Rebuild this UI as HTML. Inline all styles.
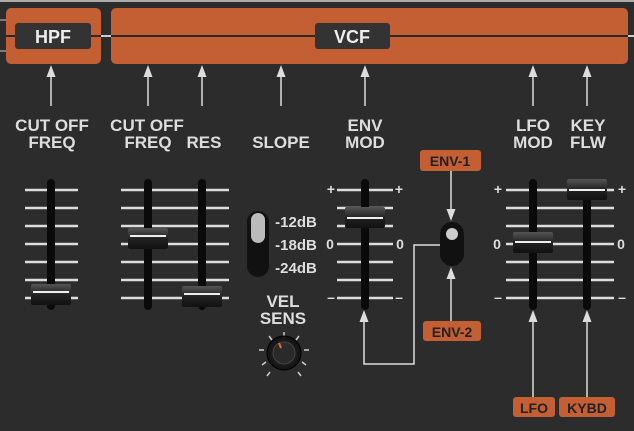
<!DOCTYPE html>
<html><head><style>
body{margin:0;width:634px;height:426px;overflow:hidden;background:#2c2c2c}
svg text{font-family:"Liberation Sans",sans-serif;font-weight:bold}
</style></head><body>
<svg width="634" height="426" viewBox="0 0 634 426" xmlns="http://www.w3.org/2000/svg">
<defs>
<marker id="a" markerWidth="8" markerHeight="8" refX="4" refY="4" orient="auto"><path d="M0,1 L8,4 L0,7Z" fill="#ddd"/></marker>
<linearGradient id="h" x1="0" y1="0" x2="0" y2="1"><stop offset="0" stop-color="#555"/><stop offset="0.5" stop-color="#222"/><stop offset="1" stop-color="#111"/></linearGradient>
<radialGradient id="k"><stop offset="0" stop-color="#333"/><stop offset="1" stop-color="#111"/></radialGradient>
</defs>
<rect width="634" height="426" fill="#2c2c2c"/>
<line x1="0" y1="1" x2="634" y2="1" stroke="#aaa" stroke-width="2"/>
<rect x="6" y="8" width="95" height="56" rx="5" fill="#c35f32"/>
<rect x="111" y="8" width="517" height="56" rx="5" fill="#c35f32"/>
<line x1="0" y1="36" x2="634" y2="36" stroke="#2a2a2a" stroke-width="2"/>
<line x1="0" y1="20" x2="6" y2="20" stroke="#ccc"/><line x1="0" y1="51" x2="6" y2="51" stroke="#ccc"/>
<line x1="101" y1="36" x2="111" y2="36" stroke="#ccc" stroke-width="2"/>
<line x1="628" y1="36" x2="634" y2="36" stroke="#ccc" stroke-width="2"/>
<rect x="15" y="23" width="76" height="26" rx="3" fill="#333"/>
<text x="53" y="43" fill="#eee" font-size="18" text-anchor="middle">HPF</text>
<rect x="315" y="23" width="75" height="26" rx="3" fill="#333"/>
<text x="352" y="43" fill="#eee" font-size="18" text-anchor="middle">VCF</text>
<g stroke="#ddd" stroke-width="1.5" marker-end="url(#a)">
<line x1="51" y1="106" x2="51" y2="71"/><line x1="148" y1="106" x2="148" y2="71"/>
<line x1="202" y1="106" x2="202" y2="71"/><line x1="281" y1="106" x2="281" y2="71"/>
<line x1="365" y1="106" x2="365" y2="71"/><line x1="533" y1="106" x2="533" y2="71"/>
<line x1="587" y1="106" x2="587" y2="71"/>
<line x1="451" y1="171" x2="451" y2="215"/><line x1="451" y1="322" x2="451" y2="273"/>
<line x1="533" y1="397" x2="533" y2="316"/><line x1="587" y1="397" x2="587" y2="316"/>
</g>
<path d="M440,245 H414 V364 H364 V316" stroke="#ddd" stroke-width="1.5" fill="none" marker-end="url(#a)"/>
<g fill="#ddd" font-size="17" text-anchor="middle">
<text x="52" y="131">CUT OFF</text><text x="52" y="148">FREQ</text>
<text x="147" y="131">CUT OFF</text><text x="148" y="148">FREQ</text>
<text x="204" y="148">RES</text><text x="281" y="148">SLOPE</text>
<text x="365" y="131">ENV</text><text x="365" y="148">MOD</text>
<text x="533" y="131">LFO</text><text x="533" y="148">MOD</text>
<text x="588" y="131">KEY</text><text x="588" y="148">FLW</text>
<text x="283" y="307">VEL</text><text x="283" y="324">SENS</text>
</g>
<g stroke="#ddd" stroke-width="2.5">
<path d="M25 190H78M25 208H78M25 226H78M25 244H78M25 262H78M25 280H78M25 298H78"/>
<path d="M121 190H229M121 208H229M121 226H229M121 244H229M121 262H229M121 280H229M121 298H229"/>
<path d="M337 190H393M337 208H393M337 226H393M337 244H393M337 262H393M337 280H393M337 298H393"/>
<path d="M506 190H614M506 208H614M506 226H614M506 244H614M506 262H614M506 280H614M506 298H614"/>
</g>
<g fill="#ddd" font-size="14" text-anchor="middle">
<text x="331" y="194">+</text><text x="399" y="194">+</text>
<text x="330" y="249">0</text><text x="400" y="249">0</text>
<text x="331" y="302">–</text><text x="399" y="302">–</text>
<text x="498" y="194">+</text><text x="622" y="194">+</text>
<text x="497" y="249">0</text><text x="621" y="249">0</text>
<text x="498" y="302">–</text><text x="622" y="302">–</text>
<text x="296" y="227" font-size="15">-12dB</text><text x="296" y="250" font-size="15">-18dB</text><text x="296" y="273" font-size="15">-24dB</text>
</g>
<g fill="#0a0a0a">
<rect x="47" y="179" width="8" height="131" rx="4"/><rect x="144" y="179" width="8" height="131" rx="4"/>
<rect x="198" y="179" width="8" height="131" rx="4"/><rect x="361" y="179" width="8" height="131" rx="4"/>
<rect x="529" y="179" width="8" height="131" rx="4"/><rect x="583" y="179" width="8" height="131" rx="4"/>
</g>
<g>
<rect x="31" y="284" width="40" height="21" rx="2" fill="url(#h)"/><line x1="33" y1="292" x2="69" y2="292" stroke="#eee" stroke-width="2"/>
<rect x="128" y="228" width="40" height="21" rx="2" fill="url(#h)"/><line x1="130" y1="236" x2="166" y2="236" stroke="#eee" stroke-width="2"/>
<rect x="182" y="286" width="40" height="21" rx="2" fill="url(#h)"/><line x1="184" y1="294" x2="220" y2="294" stroke="#eee" stroke-width="2"/>
<rect x="345" y="207" width="40" height="21" rx="2" fill="url(#h)"/><line x1="347" y1="218" x2="383" y2="218" stroke="#eee" stroke-width="2"/>
<rect x="513" y="232" width="40" height="21" rx="2" fill="url(#h)"/><line x1="515" y1="242" x2="551" y2="242" stroke="#eee" stroke-width="2"/>
<rect x="567" y="179" width="40" height="21" rx="2" fill="url(#h)"/><line x1="569" y1="190" x2="605" y2="190" stroke="#eee" stroke-width="2"/>
</g>
<rect x="247" y="211" width="22" height="66" rx="11" fill="#111"/>
<rect x="251" y="213" width="14" height="30" rx="7" fill="#bbb"/>
<rect x="440" y="222" width="24" height="44" rx="12" fill="#111"/>
<circle cx="452" cy="234" r="6" fill="#ccc"/>
<rect x="420" y="150" width="61" height="21" rx="3" fill="#c35f32"/>
<text x="450" y="166" fill="#222" font-size="14" text-anchor="middle">ENV-1</text>
<rect x="423" y="321" width="58" height="20" rx="3" fill="#c35f32"/>
<text x="452" y="337" fill="#222" font-size="14" text-anchor="middle">ENV-2</text>
<rect x="513" y="397" width="42" height="20" rx="3" fill="#c35f32"/>
<text x="534" y="413" fill="#222" font-size="14" text-anchor="middle">LFO</text>
<rect x="559" y="397" width="56" height="20" rx="3" fill="#c35f32"/>
<text x="587" y="413" fill="#222" font-size="14" text-anchor="middle">KYBD</text>
<g stroke="#ccc" stroke-width="1.5">
<path d="M284 337v-5M296 340l3-4M304 350h5M302 362l4 3M272 340l-3-4M264 350h-5M266 362l-4 3M270 372l-3 4M298 372l3 4"/>
</g>
<circle cx="284" cy="353" r="17" fill="url(#k)" stroke="#000"/>
<circle cx="284" cy="353" r="11" fill="#2a2a2a" stroke="#444"/>
<line x1="279" y1="343" x2="281" y2="348" stroke="#e07030" stroke-width="2"/>
</svg>
</body></html>
